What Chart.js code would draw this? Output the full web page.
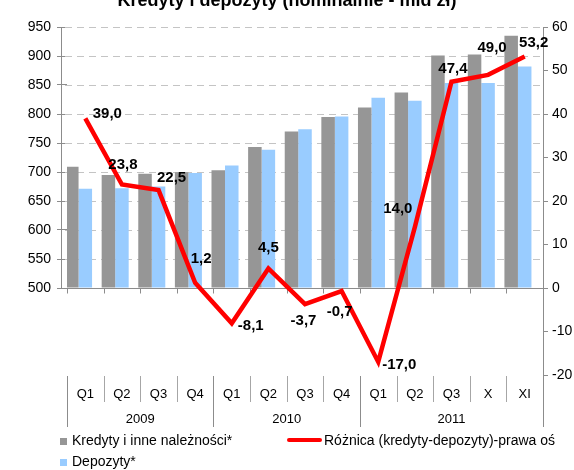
<!DOCTYPE html>
<html><head><meta charset="utf-8">
<script src="https://cdn.jsdelivr.net/npm/chart.js@4.4.1/dist/chart.umd.min.js"></script>
<style>
html,body{margin:0;padding:0;background:#fff;}
#wrap{position:relative;width:574px;height:470px;overflow:hidden;font-family:"Liberation Sans",Arial,sans-serif;color:#000;}
canvas{position:absolute;left:0;top:0;}
#title{position:absolute;left:0;width:574px;top:-10px;text-align:center;font-weight:bold;font-size:18px;line-height:21px;white-space:nowrap;}
.leg{position:absolute;font-size:14px;line-height:16px;white-space:nowrap;}
.sw{display:inline-block;width:7px;height:7px;margin-right:5px;vertical-align:0px;}
.ln{display:inline-block;width:35px;height:4px;border-radius:2px;background:#ff0000;margin-right:2px;vertical-align:3px;}
</style></head>
<body><div id="wrap">
<canvas id="c" width="574" height="470"></canvas>
<div id="title">Kredyty i depozyty (nominalnie - mld zł)</div>
<div class="leg" style="left:60px;top:432px"><span class="sw" style="background:#969696"></span>Kredyty i inne należności*</div>
<div class="leg" style="left:287px;top:432px"><span class="ln"></span>Różnica (kredyty-depozyty)-prawa oś</div>
<div class="leg" style="left:60px;top:453px"><span class="sw" style="background:#99ccff"></span>Depozyty*</div>
</div>
<script>
// ---- data ----
const quarters = ['Q1','Q2','Q3','Q4','Q1','Q2','Q3','Q4','Q1','Q2','Q3','X','XI'];
const years = ['2009','2010','2011'];
const yearSpans = [4, 4, 5];
const kredyty = [709, 695, 697, 699.5, 703, 743, 770, 795, 811, 837, 901, 902.5, 935];
const depozyty = [671, 672, 675, 698.3, 711, 738.5, 773.7, 795.7, 828, 823, 853.6, 853.5, 881.8];
const roznica = [39.0, 23.8, 22.5, 1.2, -8.1, 4.5, -3.7, -0.7, -17.0, 14.0, 47.4, 49.0, 53.2];

// label placement (offset of each value label from its point, px)
const labelDx = [22, 1, 13, 6, 19, 0, -1.5, -2, 21, -17, 1.5, 4, 9];
const labelDy = [-4, -20, -12, -24, 3, -21, 17, 21, 3, -18, -13, -27, -14];

const LEFT_MIN_SHOWN = 500;

const decor = {
  id: 'decor',
  beforeDatasetsDraw(chart) {
    const {ctx, chartArea: ca, scales} = chart;
    const y = scales.y;
    const n = quarters.length;
    const w = (ca.right - ca.left) / n;
    const yb = Math.round(y.getPixelForValue(LEFT_MIN_SHOWN)) + 0.5;
    ctx.save();
    // dashed grid lines of the left axis (above 500)
    ctx.strokeStyle = '#c4c4c4';
    ctx.lineWidth = 1;
    ctx.setLineDash([7, 5]);
    ctx.beginPath();
    y.ticks.forEach(t => {
      if (t.value > LEFT_MIN_SHOWN) {
        const gy = Math.round(y.getPixelForValue(t.value)) + 0.5;
        ctx.moveTo(ca.left - 2, gy); ctx.lineTo(ca.right, gy);
      }
    });
    ctx.stroke();
    ctx.setLineDash([]);
    ctx.strokeStyle = '#8c8c8c';
    ctx.beginPath();
    // baseline at 500
    ctx.moveTo(ca.left - 10, yb); ctx.lineTo(ca.right, yb);
    // small ticks at category boundaries
    for (let i = 0; i <= n; i++) {
      const bx = Math.round(ca.left + i * w) + 0.5;
      ctx.moveTo(bx, yb); ctx.lineTo(bx, yb + 5);
    }
    // left axis line (only 500..950)
    const lx = Math.round(ca.left - 6) + 0.5;
    ctx.moveTo(lx, Math.round(y.getPixelForValue(y.max))); ctx.lineTo(lx, yb);
    ctx.stroke();
    ctx.restore();
  },
  afterDatasetsDraw(chart) {
    const {ctx, chartArea: ca} = chart;
    const n = quarters.length;
    const w = (ca.right - ca.left) / n;
    ctx.save();
    // category table dividers
    const yearBounds = [0];
    yearSpans.forEach(s => yearBounds.push(yearBounds[yearBounds.length - 1] + s));
    ctx.lineWidth = 1;
    for (let i = 0; i <= n; i++) {
      const bx = Math.round(ca.left + i * w) + 0.5;
      const isYear = yearBounds.includes(i);
      ctx.strokeStyle = isYear ? '#8c8c8c' : '#a6a6a6';
      ctx.beginPath();
      ctx.moveTo(bx, ca.bottom + 1);
      ctx.lineTo(bx, ca.bottom + (isYear ? 52 : 27));
      ctx.stroke();
    }
    // year labels
    ctx.fillStyle = '#000';
    ctx.font = '13px "Liberation Sans", Arial, sans-serif';
    ctx.textAlign = 'center';
    ctx.textBaseline = 'middle';
    for (let k = 0; k < years.length; k++) {
      const cx = ca.left + (yearBounds[k] + yearBounds[k + 1]) / 2 * w;
      ctx.fillText(years[k], cx, ca.bottom + 44);
    }
    // value labels for the difference line
    const meta = chart.getDatasetMeta(0);
    ctx.font = 'bold 15px "Liberation Sans", Arial, sans-serif';
    meta.data.forEach((pt, i) => {
      const txt = roznica[i].toFixed(1).replace('.', ',');
      ctx.fillText(txt, pt.x + labelDx[i], pt.y + labelDy[i]);
    });
    ctx.restore();
  }
};

new Chart(document.getElementById('c'), {
  data: {
    labels: quarters,
    datasets: [
      {
        type: 'line', label: 'Różnica (kredyty-depozyty)-prawa oś', data: roznica,
        yAxisID: 'y2', borderColor: '#ff0000', borderWidth: 4.5, pointRadius: 0,
        tension: 0, order: 0, borderJoinStyle: 'miter'
      },
      {
        type: 'bar', label: 'Kredyty i inne należności*', data: kredyty, yAxisID: 'y',
        backgroundColor: '#969696', base: LEFT_MIN_SHOWN, order: 1
      },
      {
        type: 'bar', label: 'Depozyty*', data: depozyty, yAxisID: 'y',
        backgroundColor: '#99ccff', base: LEFT_MIN_SHOWN, order: 1
      },
      {
        // empty third slot of the Excel bar group (keeps bars left of centre)
        type: 'bar', label: '', data: quarters.map(() => null), yAxisID: 'y', order: 1
      }
    ]
  },
  options: {
    responsive: false,
    animation: false,
    events: [],
    layout: {padding: {top: 27, left: 0, right: 0, bottom: 0}},
    datasets: {bar: {categoryPercentage: 1.107, barPercentage: 1.0}},
    plugins: {legend: {display: false}, title: {display: false}, tooltip: {enabled: false}},
    scales: {
      x: {
        type: 'category',
        grid: {display: false, drawTicks: false},
        border: {display: false},
        ticks: {color: '#000', font: {size: 13, family: '"Liberation Sans", Arial, sans-serif'}, padding: 12, autoSkip: false, maxRotation: 0},
        afterFit(s) { s.height = 95; }
      },
      y: {
        position: 'left', min: 350, max: 950,
        grid: {
          drawOnChartArea: false,
          tickColor: c => (c.tick && c.tick.value >= LEFT_MIN_SHOWN) ? '#8c8c8c' : 'rgba(0,0,0,0)',
          tickLength: 10, lineWidth: 1
        },
        border: {display: false},
        ticks: {
          stepSize: 50, autoSkip: false, color: '#000', padding: 6,
          font: {size: 14, family: '"Liberation Sans", Arial, sans-serif'},
          callback: v => v >= LEFT_MIN_SHOWN ? v : ''
        },
        afterFit(s) { s.width = 67; }
      },
      y2: {
        position: 'right', min: -20, max: 60,
        grid: {drawOnChartArea: false, tickLength: 5, tickColor: '#8c8c8c'},
        border: {display: true, color: '#8c8c8c'},
        ticks: {stepSize: 10, color: '#000', padding: 4, font: {size: 14, family: '"Liberation Sans", Arial, sans-serif'}},
        afterFit(s) { s.width = 31; }
      }
    }
  },
  plugins: [decor]
});
</script>
</body></html>
